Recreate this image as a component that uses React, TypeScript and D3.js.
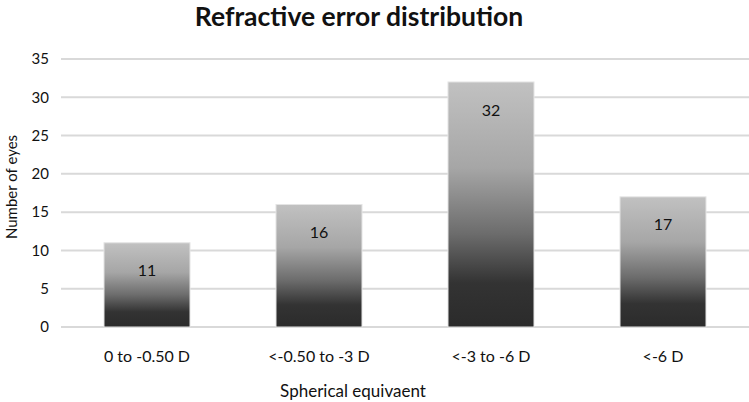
import React, { useRef, useEffect } from 'react';
import * as d3 from 'd3';

const categories = ['0 to -0.50 D', '<-0.50 to -3 D', '<-3 to -6 D', '<-6 D'];
const eyes = [11, 16, 32, 17];
const yTicks = [0, 5, 10, 15, 20, 25, 30, 35];

const FONT = "Lato, 'Open Sans', sans-serif";

function App() {
  const ref = useRef<SVGSVGElement>(null);

  useEffect(() => {
    const svg = d3.select(ref.current);
    svg.selectAll('*').remove();

    const width = 749;
    const height = 402;
    const left = 61;
    const right = 749;
    const top = 59;
    const bottom = 327;

    const x = d3.scaleBand().domain(categories).range([left, right]).paddingInner(0.5).paddingOuter(0.25);
    const y = d3.scaleLinear().domain([0, 35]).range([bottom, top]);

    const defs = svg.append('defs');
    const grad = defs.append('linearGradient')
      .attr('id', 'barGrad')
      .attr('x1', 0).attr('y1', 0).attr('x2', 0).attr('y2', 1);
    grad.append('stop').attr('offset', '0%').attr('stop-color', '#c1c1c1');
    grad.append('stop').attr('offset', '35%').attr('stop-color', '#a6a6a6');
    grad.append('stop').attr('offset', '62%').attr('stop-color', '#6c6c6c');
    grad.append('stop').attr('offset', '82%').attr('stop-color', '#333333');
    grad.append('stop').attr('offset', '100%').attr('stop-color', '#2b2b2b');

    svg.append('rect').attr('width', width).attr('height', height).attr('fill', 'white');

    // gridlines
    svg.append('g')
      .selectAll('line')
      .data(yTicks)
      .enter().append('line')
      .attr('x1', left).attr('x2', right)
      .attr('y1', d => y(d)).attr('y2', d => y(d))
      .attr('stroke', '#d9d9d9')
      .attr('stroke-width', 2);

    // y tick labels
    svg.append('g')
      .selectAll('text')
      .data(yTicks)
      .enter().append('text')
      .attr('x', 49)
      .attr('y', d => y(d))
      .attr('dy', '0.35em')
      .attr('text-anchor', 'end')
      .style('font-family', FONT)
      .style('font-size', '15px')
      .style('fill', '#111')
      .text(d => d);

    // bars
    svg.append('g')
      .selectAll('rect')
      .data(eyes)
      .enter().append('rect')
      .attr('x', (d, i) => x(categories[i])!)
      .attr('y', d => y(d))
      .attr('width', x.bandwidth())
      .attr('height', d => bottom - y(d))
      .attr('fill', 'url(#barGrad)')
      .attr('stroke', '#e4e4e4')
      .attr('stroke-width', 1);

    // value labels
    svg.append('g')
      .selectAll('text')
      .data(eyes)
      .enter().append('text')
      .attr('x', (d, i) => x(categories[i])! + x.bandwidth() / 2)
      .attr('y', d => y(d) + 28)
      .attr('dy', '0.35em')
      .attr('text-anchor', 'middle')
      .style('font-family', FONT)
      .style('font-size', '16px')
      .style('fill', '#111')
      .text(d => d);

    // x tick labels
    svg.append('g')
      .selectAll('text')
      .data(categories)
      .enter().append('text')
      .attr('x', d => x(d)! + x.bandwidth() / 2)
      .attr('y', 356)
      .attr('dy', '0.35em')
      .attr('text-anchor', 'middle')
      .style('font-family', FONT)
      .style('font-size', '16px')
      .style('fill', '#111')
      .text(d => d);

    svg.append('text')
      .attr('x', 359)
      .attr('y', 17)
      .attr('dy', '0.35em')
      .attr('text-anchor', 'middle')
      .style('font-family', FONT)
      .style('font-size', '26.5px')
      .style('font-weight', 'bold')
      .style('fill', '#111')
      .text('Refractive error distribution');

    svg.append('text')
      .attr('x', 353)
      .attr('y', 391)
      .attr('dy', '0.35em')
      .attr('text-anchor', 'middle')
      .style('font-family', FONT)
      .style('font-size', '17px')
      .style('fill', '#111')
      .text('Spherical equivaent');

    svg.append('text')
      .attr('transform', 'translate(12,187) rotate(-90)')
      .attr('dy', '0.35em')
      .attr('text-anchor', 'middle')
      .style('font-family', FONT)
      .style('font-size', '15px')
      .style('fill', '#111')
      .text('Number of eyes');
  }, []);

  return (
    <svg
      ref={ref}
      width={749}
      height={402}
      style={{ position: 'absolute', left: 0, top: 0, display: 'block' }}
    />
  );
}

export default App;
